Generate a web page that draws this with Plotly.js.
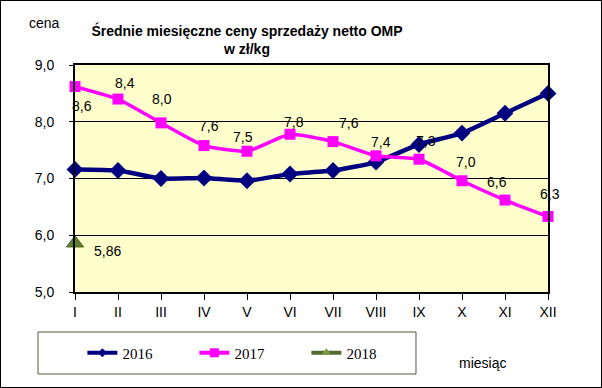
<!DOCTYPE html>
<html>
<head>
<meta charset="utf-8">
<script src="https://cdn.plot.ly/plotly-3.0.1.min.js"></script>
<style>
html,body{margin:0;padding:0;background:#fff;}
#chart{width:602px;height:388px;box-sizing:border-box;border:1px solid #000;}
</style>
</head>
<body>
<div id="chart"></div>
<script>
const months = ['I','II','III','IV','V','VI','VII','VIII','IX','X','XI','XII'];
const y2016 = [7.16,7.14,7.00,7.01,6.96,7.08,7.14,7.29,7.60,7.80,8.15,8.50];
const y2017 = [8.62,8.40,7.98,7.58,7.48,7.78,7.65,7.40,7.34,6.96,6.62,6.33];
const labels2017 = ['8,6','8,4','8,0','7,6','7,5','7,8','7,6','7,4','7,3','7,0','6,6','6,3'];
const months2018 = ['I'];
const y2018 = [5.86];
const labels2018 = ['5,86'];
const seriesNames = ['2016','2017','2018'];
// label offsets in px (style, not data)
const lblDx = [7,7,1,5,-4,4,16,5,7,4,-8,2];
const lblDy = [-19,16,24,20,14,12,19,14,18,19,18,23];

const C16 = '#000080', C17 = '#FF00FF', C18 = '#5E7D2C';

const traces = [
  {x: months, y: y2016, name: seriesNames[0], type: 'scatter', mode: 'lines+markers', showlegend: false, cliponaxis: false,
   line: {color: C16, width: 4.5, shape: 'spline', smoothing: 0.5},
   marker: {symbol: 'diamond', size: 13, color: C16}},
  {x: months, y: y2017, name: seriesNames[1], type: 'scatter', mode: 'lines+markers', showlegend: false, cliponaxis: false,
   line: {color: C17, width: 3.5, shape: 'spline', smoothing: 0.5},
   marker: {symbol: 'square', size: 11, color: C17}},
  {x: months2018, y: y2018, name: seriesNames[2], type: 'scatter', mode: 'lines+markers', showlegend: false, cliponaxis: false,
   line: {color: '#556B2F', width: 4},
   marker: {symbol: 'triangle-up', size: 15, color: C18, line: {color: '#4A6322', width: 1}}},
  // legend entries (no data, legend only)
  {x: [null], y: [null], name: seriesNames[0], type: 'scatter', mode: 'lines+markers',
   line: {color: C16, width: 4}, marker: {symbol: 'diamond', size: 7, color: C16}},
  {x: [null], y: [null], name: seriesNames[1], type: 'scatter', mode: 'lines+markers',
   line: {color: C17, width: 4}, marker: {symbol: 'square', size: 9, color: C17}},
  {x: [null], y: [null], name: seriesNames[2], type: 'scatter', mode: 'lines+markers',
   line: {color: '#556B2F', width: 4}, marker: {symbol: 'triangle-up', size: 9, color: '#7A9A45'}}
];

const annotations = [];
months.forEach((m, i) => {
  annotations.push({x: m, y: y2017[i], xref: 'x', yref: 'y', text: labels2017[i],
    showarrow: false, xshift: lblDx[i], yshift: lblDy[i],
    font: {family: 'Liberation Sans, Arial', size: 14, color: '#000'}});
});
months2018.forEach((m, i) => {
  annotations.push({x: m, y: y2018[i], xref: 'x', yref: 'y', text: labels2018[i],
    showarrow: false, xshift: 32, yshift: -8,
    font: {family: 'Liberation Sans, Arial', size: 14, color: '#000'}});
});
annotations.push({xref: 'paper', yref: 'paper', x: -0.0655, y: 1.185, xanchor: 'center', yanchor: 'middle',
  text: 'cena', showarrow: false, font: {family: 'Liberation Sans, Arial', size: 14, color: '#000'}});
annotations.push({xref: 'paper', yref: 'paper', x: 0.8605, y: -0.3128, xanchor: 'center', yanchor: 'middle',
  text: 'miesiąc', showarrow: false, font: {family: 'Liberation Sans, Arial', size: 14, color: '#000'}});

const layout = {
  width: 600, height: 386,
  margin: {l: 74, r: 53, t: 64, b: 95},
  paper_bgcolor: '#FFFFFF',
  plot_bgcolor: '#FFFFCC',
  separators: ', ',
  title: {text: '<b>Średnie miesięczne ceny sprzedaży netto OMP<br>w zł/kg</b>',
    x: 0.41, xanchor: 'center', y: 0.9106, yanchor: 'middle',
    font: {family: 'Liberation Sans, Arial', size: 14, color: '#000'}},
  showlegend: true,
  legend: {orientation: 'h', x: 0.0156, y: -0.2687, xanchor: 'left', yanchor: 'middle',
    bgcolor: 'rgba(0,0,0,0)', borderwidth: 0, entrywidth: 67,
    font: {family: 'Liberation Serif, Times New Roman', size: 15, color: '#000'}},
  xaxis: {type: 'category', range: [0, 11], showgrid: false, zeroline: false,
    ticks: 'outside', ticklen: 6, tickcolor: '#000', tickwidth: 1,
    showline: true, linecolor: '#000', linewidth: 2, mirror: true,
    tickfont: {family: 'Liberation Sans, Arial', size: 14, color: '#000'}},
  yaxis: {range: [5, 9], dtick: 1, tickformat: '.1f', showgrid: true, gridcolor: '#000', gridwidth: 1,
    zeroline: false, ticks: 'outside', ticklen: 4, tickcolor: '#000', ticklabelstandoff: 12,
    showline: true, linecolor: '#000', linewidth: 2, mirror: true,
    tickfont: {family: 'Liberation Sans, Arial', size: 14, color: '#000'}},
  shapes: [{type: 'rect', xref: 'paper', yref: 'paper', x0: -0.0782, x1: 0.7209, y0: -0.3612, y1: -0.1762,
    line: {color: '#55553F', width: 1}, fillcolor: 'rgba(0,0,0,0)'}],
  annotations: annotations
};

Plotly.newPlot('chart', traces, layout, {displayModeBar: false, staticPlot: true});
</script>
</body>
</html>
